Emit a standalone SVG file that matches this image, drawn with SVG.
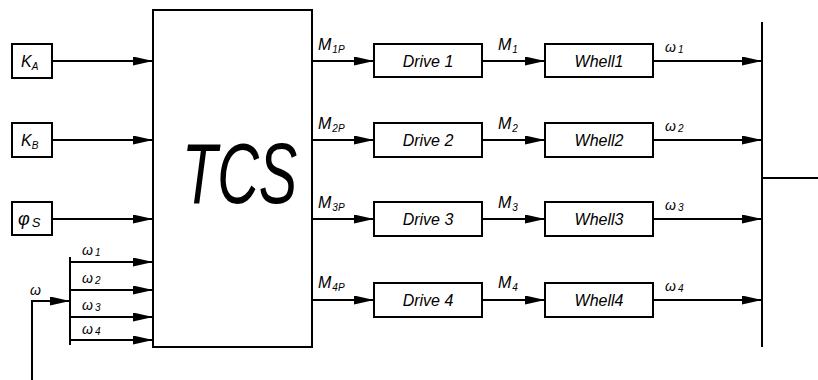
<svg xmlns="http://www.w3.org/2000/svg" width="818" height="380" viewBox="0 0 818 380">
<style>
.box{fill:#fff;stroke:#000;stroke-width:2}
.ln{fill:none;stroke:#000;stroke-width:2}
.ar{marker-end:url(#ah)}
text{font-family:"Liberation Sans",Arial,sans-serif;font-style:italic;fill:#000}
.lbl{font-size:16px}
.sub{font-size:10px}
.blk{font-size:16px;text-anchor:middle}
.w{font-size:14px}
</style>
<defs>
<marker id="ah" markerUnits="userSpaceOnUse" markerWidth="21" markerHeight="10" refX="20" refY="4.5" orient="auto">
<path d="M0,0 L20,4.5 L0,9 Z" fill="#000"/>
</marker>
</defs>
<rect width="818" height="380" fill="#fff"/>

<g id="connectors">
<line class="ln ar" x1="52" y1="61" x2="153" y2="61"/>
<line class="ln ar" x1="52" y1="140" x2="153" y2="140"/>
<line class="ln ar" x1="52" y1="219" x2="153" y2="219"/>
<line class="ln" x1="70" y1="257" x2="70" y2="345"/>
<line class="ln ar" x1="70" y1="262" x2="153" y2="262"/>
<line class="ln ar" x1="70" y1="290" x2="153" y2="290"/>
<line class="ln ar" x1="70" y1="317" x2="153" y2="317"/>
<line class="ln ar" x1="70" y1="340" x2="153" y2="340"/>
<polyline class="ln ar" points="32,382 32,301 70,301"/>
<line class="ln ar" x1="312" y1="61" x2="374" y2="61"/>
<line class="ln ar" x1="312" y1="140" x2="374" y2="140"/>
<line class="ln ar" x1="312" y1="219" x2="374" y2="219"/>
<line class="ln ar" x1="312" y1="300" x2="374" y2="300"/>
<line class="ln ar" x1="482" y1="61" x2="545" y2="61"/>
<line class="ln ar" x1="482" y1="140" x2="545" y2="140"/>
<line class="ln ar" x1="482" y1="219" x2="545" y2="219"/>
<line class="ln ar" x1="482" y1="300" x2="545" y2="300"/>
<line class="ln ar" x1="653" y1="61" x2="762" y2="61"/>
<line class="ln ar" x1="653" y1="140" x2="762" y2="140"/>
<line class="ln ar" x1="653" y1="219" x2="762" y2="219"/>
<line class="ln ar" x1="653" y1="300" x2="762" y2="300"/>
<line class="ln" x1="762" y1="22" x2="762" y2="347"/>
<line class="ln" x1="762" y1="178" x2="818" y2="178"/>
</g>

<g id="labels">
<text class="lbl" x="318" y="50">M<tspan class="sub" dx="1" dy="3">1P</tspan></text>
<text class="lbl" x="318" y="129">M<tspan class="sub" dx="1" dy="3">2P</tspan></text>
<text class="lbl" x="318" y="208">M<tspan class="sub" dx="1" dy="3">3P</tspan></text>
<text class="lbl" x="318" y="288">M<tspan class="sub" dx="1" dy="3">4P</tspan></text>
<text class="lbl" x="498" y="50">M<tspan class="sub" dx="1" dy="3">1</tspan></text>
<text class="lbl" x="498" y="129">M<tspan class="sub" dx="1" dy="3">2</tspan></text>
<text class="lbl" x="498" y="208">M<tspan class="sub" dx="1" dy="3">3</tspan></text>
<text class="lbl" x="498" y="288">M<tspan class="sub" dx="1" dy="3">4</tspan></text>
<text class="w" x="665" y="52">ω<tspan class="sub" dx="2" dy="1">1</tspan></text>
<text class="w" x="665" y="131">ω<tspan class="sub" dx="2" dy="1">2</tspan></text>
<text class="w" x="665" y="210">ω<tspan class="sub" dx="2" dy="1">3</tspan></text>
<text class="w" x="665" y="291">ω<tspan class="sub" dx="2" dy="1">4</tspan></text>
<text class="w" x="82" y="255">ω<tspan class="sub" dx="2" dy="1">1</tspan></text>
<text class="w" x="82" y="283">ω<tspan class="sub" dx="2" dy="1">2</tspan></text>
<text class="w" x="82" y="310">ω<tspan class="sub" dx="2" dy="1">3</tspan></text>
<text class="w" x="82" y="334">ω<tspan class="sub" dx="2" dy="1">4</tspan></text>
<text class="w" x="30" y="295">ω</text>
</g>

<g id="KA"><rect class="box" x="12" y="44" width="40" height="34"/><text class="lbl" x="21" y="67">K<tspan class="sub" dy="3">A</tspan></text></g>
<g id="KB"><rect class="box" x="12" y="123" width="40" height="34"/><text class="lbl" x="21" y="146">K<tspan class="sub" dy="3">B</tspan></text></g>
<g id="phiS"><rect class="box" x="12" y="202" width="40" height="33"/><text x="18" y="225" style="font-size:18px">φ<tspan dx="2" dy="2" style="font-size:13px">S</tspan></text></g>

<g id="TCS"><rect class="box" x="153" y="10" width="159" height="337"/><text transform="translate(182,203) scale(0.67,1)" x="0" y="0" style="font-size:86px">TCS</text></g>

<g id="drive1"><rect class="box" x="374" y="44" width="108" height="33"/><text class="blk" x="428" y="67">Drive 1</text></g>
<g id="drive2"><rect class="box" x="374" y="123" width="108" height="34"/><text class="blk" x="428" y="146">Drive 2</text></g>
<g id="drive3"><rect class="box" x="374" y="202" width="108" height="34"/><text class="blk" x="428" y="225">Drive 3</text></g>
<g id="drive4"><rect class="box" x="374" y="283" width="108" height="34"/><text class="blk" x="428" y="306">Drive 4</text></g>

<g id="whell1"><rect class="box" x="545" y="44" width="108" height="33"/><text class="blk" x="599" y="67">Whell1</text></g>
<g id="whell2"><rect class="box" x="545" y="123" width="108" height="34"/><text class="blk" x="599" y="146">Whell2</text></g>
<g id="whell3"><rect class="box" x="545" y="202" width="108" height="34"/><text class="blk" x="599" y="225">Whell3</text></g>
<g id="whell4"><rect class="box" x="545" y="283" width="108" height="34"/><text class="blk" x="599" y="306">Whell4</text></g>
</svg>
